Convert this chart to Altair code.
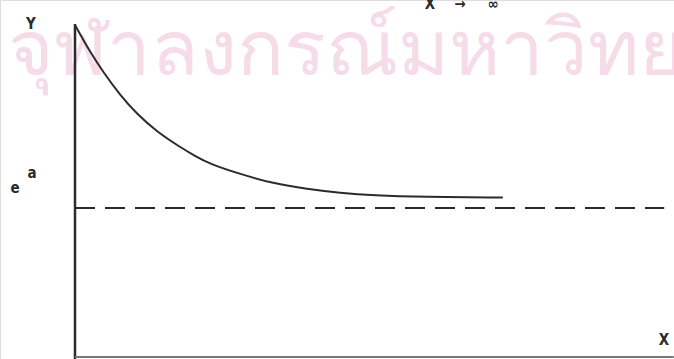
import altair as alt
import pandas as pd

# Decaying curve y(x) that levels off above the asymptote e^a
curve_x = [0.00, 0.25, 0.47, 0.75, 1.03, 1.37, 1.75, 2.00, 2.25, 2.75, 3.30, 3.87, 4.42, 4.97, 5.80, 7.13]
curve_y = [3.32, 3.05, 2.85, 2.62, 2.43, 2.25, 2.10, 2.01, 1.93, 1.83, 1.735, 1.68, 1.64, 1.615, 1.60, 1.595]

# Horizontal asymptote level (e^a) and axis extents
asymptote_y = [1.49]
asymptote_x = [0.0, 9.82]
y_axis_top = [3.33]
x_axis_end = [9.98]

watermark = "จุฬาลงกรณ์มหาวิทยาลัย"

W, H = 674, 359
xs = alt.Scale(domain=[-1.25, 9.983], nice=False, zero=False)
ys = alt.Scale(domain=[-0.02, 3.57], nice=False, zero=False)

ink = "#2b2b2b"
label_font = "DejaVu Sans Condensed"

wm = alt.Chart(pd.DataFrame({"t": [watermark]})).mark_text(
    font="Noto Sans", fontSize=78, color="#f5dce8", align="left", baseline="alphabetic"
).encode(x=alt.value(8), y=alt.value(75), text="t:N")

curve = alt.Chart(pd.DataFrame({"x": curve_x, "y": curve_y})).mark_line(
    color=ink, strokeWidth=2, interpolate="basis"
).encode(x=alt.X("x:Q", scale=xs, axis=None), y=alt.Y("y:Q", scale=ys, axis=None))

dash = alt.Chart(pd.DataFrame({"x": [asymptote_x[0]], "x2": [asymptote_x[1]], "y": asymptote_y})).mark_rule(
    color=ink, strokeWidth=2, strokeDash=[20, 10]
).encode(x=alt.X("x:Q", scale=xs, axis=None), x2="x2:Q", y=alt.Y("y:Q", scale=ys, axis=None))

yaxis = alt.Chart(pd.DataFrame({"x": [0.0], "y": [-0.02], "y2": y_axis_top})).mark_rule(
    color=ink, strokeWidth=2.5
).encode(x=alt.X("x:Q", scale=xs, axis=None), y=alt.Y("y:Q", scale=ys, axis=None), y2="y2:Q")

xaxis = alt.Chart(pd.DataFrame({"x": [0.0], "x2": x_axis_end, "y": [0.0]})).mark_rule(
    color="#777777", strokeWidth=2
).encode(x=alt.X("x:Q", scale=xs, axis=None), x2="x2:Q", y=alt.Y("y:Q", scale=ys, axis=None))

def label(text, px, py, size=15, weight="bold"):
    return alt.Chart(pd.DataFrame({"t": [text]})).mark_text(
        font=label_font, fontSize=size, fontWeight=weight, color=ink, align="center", baseline="middle"
    ).encode(x=alt.value(px), y=alt.value(py), text="t:N")

chart = alt.layer(
    wm,
    curve,
    dash,
    yaxis,
    xaxis,
    label("Y", 31, 24),
    label("e", 15, 188),
    label("a", 32, 173),
    label("X", 664, 340),
    label("X", 430, 4),
    label("→", 460, 4),
    label("∞", 493, 4),
).properties(
    width=W, height=H, padding=0, autosize=alt.AutoSizeParams(type="none")
).configure_view(stroke=None).configure(background="white")

chart.save("out.html", embed_options={"renderer": "svg", "actions": False})
